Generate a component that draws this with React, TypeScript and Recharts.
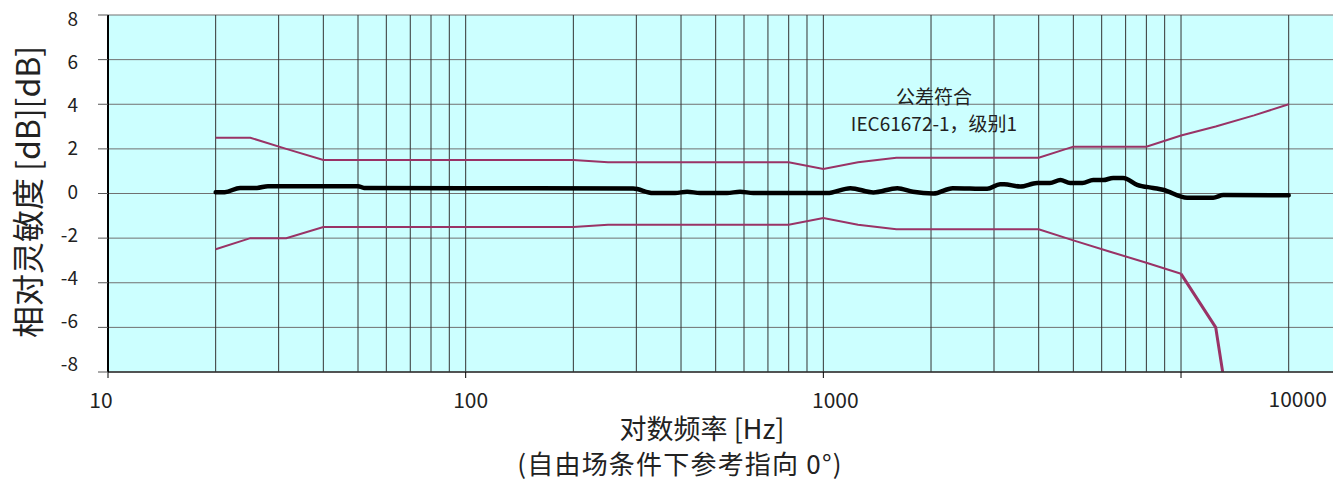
import React from 'react';
import { LineChart, Line, XAxis, YAxis, CartesianGrid, ReferenceLine } from 'recharts';

// ---- data ----
const X_TICKS = [10, 100, 1000, 10000];
const Y_TICKS = [-8, -6, -4, -2, 0, 2, 4, 6, 8];
const GRID_FREQS = [
  20, 30, 40, 50, 60, 70, 80, 90, 100,
  200, 300, 400, 500, 600, 700, 800, 900, 1000,
  2000, 3000, 4000, 5000, 6000, 7000, 8000, 9000, 10000, 20000,
];
const X_TICK_LABELS: Record<number, string> = { 10: '10', 100: '100', 1000: '1000', 10000: '' };
const EXTRA_LABEL_FREQ = 20000;
const EXTRA_LABEL_TEXT = '10000';

const TOL_FREQ = [20, 25, 31.5, 40, 50, 63, 80, 100, 125, 160, 200, 250, 315, 400, 500, 630, 800, 1000, 1250, 1600, 2000, 2500, 3150, 4000, 5000, 6300, 8000, 10000, 12500, 16000, 20000];
const TOL_UPPER = [2.5, 2.5, 2.0, 1.5, 1.5, 1.5, 1.5, 1.5, 1.5, 1.5, 1.5, 1.4, 1.4, 1.4, 1.4, 1.4, 1.4, 1.1, 1.4, 1.6, 1.6, 1.6, 1.6, 1.6, 2.1, 2.1, 2.1, 2.6, 3.0, 3.5, 4.0];
const LOW_FREQ_A = [20, 25, 31.5, 40, 50, 63, 80, 100, 125, 160, 200, 250, 315, 400, 500, 630, 800, 1000, 1250, 1600, 2000, 2500, 3150, 4000, 5000, 6300, 8000, 10000];
const LOW_VAL_A = [-2.5, -2.0, -2.0, -1.5, -1.5, -1.5, -1.5, -1.5, -1.5, -1.5, -1.5, -1.4, -1.4, -1.4, -1.4, -1.4, -1.4, -1.1, -1.4, -1.6, -1.6, -1.6, -1.6, -1.6, -2.1, -2.6, -3.1, -3.6];
const LOW_FREQ_B = [10000, 12500, 16000];
const LOW_VAL_B = [-3.6, -6.0, -17];

const RESP_FREQ = [20, 21.2, 23.4, 26.1, 28, 50, 52, 294, 334, 385, 416, 452, 538, 585, 637, 1025, 1190, 1380, 1610, 1780, 2030, 2300, 2870, 3120, 3200, 3550, 3960, 4300, 4600, 4900, 5300, 5680, 6060, 6460, 6890, 7540, 8360, 8900, 10400, 12300, 13130, 20000];
const RESP_VAL = [0.06, 0.06, 0.25, 0.25, 0.33, 0.33, 0.25, 0.22, 0.02, 0.02, 0.08, 0.02, 0.02, 0.08, 0.02, 0.02, 0.24, 0.05, 0.24, 0.08, 0.0, 0.24, 0.21, 0.42, 0.42, 0.31, 0.47, 0.47, 0.61, 0.47, 0.47, 0.61, 0.6, 0.7, 0.7, 0.39, 0.25, 0.17, -0.19, -0.19, -0.07, -0.08];

const toPts = (fs: number[], vs: number[]) => fs.map((f, i) => ({ f, v: vs[i] }));
const upper = toPts(TOL_FREQ, TOL_UPPER);
const lowerA = toPts(LOW_FREQ_A, LOW_VAL_A);
const lowerB = toPts(LOW_FREQ_B, LOW_VAL_B);
const resp = toPts(RESP_FREQ, RESP_VAL);

const FONT = '"Noto Sans CJK SC", "Noto Sans", sans-serif';
const TOL_COLOR = '#993366';
const TEXT = '#222';

const X_DX: Record<number, number> = { 10: -7, 100: 5, 1000: 12, 10000: 0 };

const XTick = (props: any) => {
  const { x, y, payload } = props;
  const label = X_TICK_LABELS[payload.value] ?? '';
  return (
    <text x={x + (X_DX[payload.value] ?? 0)} y={y} dy={28} textAnchor="middle" fontSize={21} fill={TEXT} fontFamily={FONT}>
      {label}
    </text>
  );
};

const YTick = (props: any) => {
  const { x, y, payload } = props;
  const v = payload.value as number;
  return (
    <text x={x} y={y} dy={7 - 2 + 0.8 * v} textAnchor="end" fontSize={19} fill={TEXT} fontFamily={FONT}>
      {String(v)}
    </text>
  );
};

// page coordinates (the chart layer is shifted so that its origin is the page's top-left corner)
const abs = (left: number, top: number, width: number, fontSize: number): React.CSSProperties => ({
  position: 'absolute',
  left,
  top,
  width,
  textAlign: 'center',
  fontSize,
  lineHeight: `${fontSize}px`,
  color: TEXT,
  whiteSpace: 'nowrap',
});

export default function App() {
  return (
    <div style={{ position: 'relative', width: 1333, height: 474, fontFamily: FONT }}>
      <div style={{ position: 'absolute', left: -8, top: -8, width: 1341, height: 482 }}>
        <LineChart width={1341} height={482} margin={{ top: 15, right: 8, bottom: 0, left: 0 }}>
          <CartesianGrid vertical={false} stroke="#707070" fill="#ccffff" fillOpacity={1} />
          <XAxis
            type="number"
            dataKey="f"
            scale="log"
            domain={[10, 26600]}
            allowDataOverflow
            ticks={X_TICKS}
            tick={<XTick />}
            tickSize={6}
            tickLine={{ stroke: '#000' }}
            axisLine={{ stroke: '#333', strokeWidth: 1.5 }}
            height={110}
            interval={0}
          />
          <YAxis
            type="number"
            domain={[-8, 8]}
            allowDataOverflow
            ticks={Y_TICKS}
            tick={<YTick />}
            tickSize={10}
            tickMargin={20}
            tickLine={{ stroke: '#555' }}
            axisLine={{ stroke: '#000', strokeWidth: 2 }}
            width={108}
            interval={0}
          />
          {GRID_FREQS.map((f) => (
            <ReferenceLine
              key={f}
              x={f}
              stroke="#333"
              strokeWidth={1}
              label={
                f === EXTRA_LABEL_FREQ
                  ? { value: EXTRA_LABEL_TEXT, position: 'bottom', offset: 20, fontSize: 21, fill: TEXT, fontFamily: FONT, dx: 9 }
                  : undefined
              }
            />
          ))}
          <Line data={upper} dataKey="v" type="linear" stroke={TOL_COLOR} strokeWidth={2} dot={false} isAnimationActive={false} />
          <Line data={lowerA} dataKey="v" type="linear" stroke={TOL_COLOR} strokeWidth={2} dot={false} isAnimationActive={false} />
          <Line data={lowerB} dataKey="v" type="linear" stroke={TOL_COLOR} strokeWidth={3} dot={false} isAnimationActive={false} />
          <Line data={resp} dataKey="v" type="monotone" stroke="#000" strokeWidth={4.5} strokeLinejoin="round" strokeLinecap="round" dot={false} isAnimationActive={false} />
        </LineChart>
        <div style={abs(934 - 150, 86, 300, 19)}>公差符合</div>
        <div style={abs(934 - 150, 113, 300, 19)}>IEC61672-1，级别1</div>
        <div style={abs(702 - 300, 414, 600, 27)}>对数频率 [Hz]</div>
        <div style={{ ...abs(680 - 300, 450, 600, 26), letterSpacing: 1.2 }}>(自由场条件下参考指向 0°)</div>
        <div
          style={{
            ...abs(26 - 200, 192 - 16, 400, 32),
            height: 32,
            transform: 'rotate(-90deg)',
          }}
        >
          相对灵敏度 [dB][dB]
        </div>
      </div>
    </div>
  );
}
